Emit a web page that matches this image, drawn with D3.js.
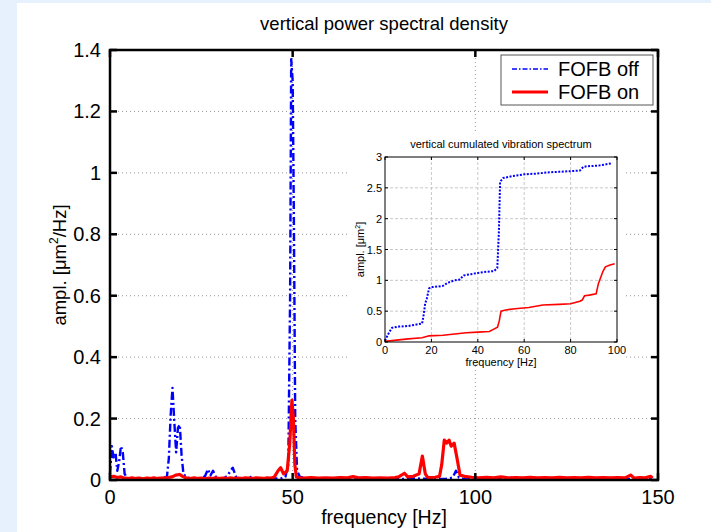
<!DOCTYPE html>
<html>
<head>
<meta charset="utf-8">
<script src="https://cdn.jsdelivr.net/npm/d3@7"></script>
<style>
  html, body { margin: 0; padding: 0; background: #e6f1fd; }
  svg { display: block; }
  text { font-family: "Liberation Sans", Arial, Helvetica, sans-serif; fill: #000; }
</style>
</head>
<body>
<svg id="chart" width="711" height="532"></svg>
<script>
// Power spectral density, feedback off: [frequency Hz, amplitude um^2/Hz]
const psdOff = [
  [0,0.02],[0.5,0.11],[1,0.07],[1.5,0.09],[2,0.03],[2.5,0.06],[3,0.11],[3.5,0.09],[4,0.02],[4.5,0.01],
  [5,0.005],[6,0.004],[7,0.006],[8,0.003],[9,0.005],[10,0.004],[11,0.006],[12,0.004],[13,0.005],[14,0.006],
  [15,0.008],[15.6,0.012],[16.1,0.07],[16.6,0.21],[17.1,0.30],[17.6,0.19],[18.1,0.09],[18.6,0.17],[19.1,0.18],[19.6,0.08],
  [20.1,0.02],[21,0.008],[22,0.005],[23,0.006],[24,0.004],[25,0.006],[26,0.012],[26.8,0.035],[27.5,0.015],[28.2,0.03],
  [29,0.01],[30,0.006],[31,0.005],[32,0.012],[33.6,0.04],[34.5,0.01],[35,0.005],[36,0.004],[37,0.006],[38,0.005],
  [38.8,0.012],[39.5,0.005],[41,0.004],[42,0.006],[43,0.004],[44,0.005],[45,0.006],[46,0.004],[47,0.006],[48,0.01],
  [48.8,0.05],[49.3,0.6],[49.6,1.37],[50,1.3],[50.3,0.9],[50.7,0.2],[51.2,0.03],[52,0.01],[53,0.008],[54,0.005],
  [56,0.004],[58,0.005],[60,0.003],[63,0.004],[66,0.005],[69,0.003],[72,0.004],[75,0.003],[78,0.004],[81,0.003],
  [84,0.005],[86,0.004],[89,0.003],[92,0.004],[93.8,0.008],[94.7,0.03],[95.5,0.008],[97,0.003],[100,0.004],[104,0.003],
  [108,0.004],[112,0.003],[116,0.004],[120,0.003],[125,0.004],[130,0.003],[135,0.004],[140,0.003],[144,0.004],[148.5,0.003]
];

// Power spectral density, feedback on
const psdOn = [
  [0,0.01],[1,0.012],[2,0.008],[3,0.01],[4,0.006],[5,0.005],[6,0.007],[7,0.005],[8,0.006],[9,0.004],
  [10,0.006],[11,0.005],[12,0.007],[13,0.005],[14,0.006],[15,0.007],[16,0.008],[17,0.01],[18,0.016],[19,0.018],
  [20,0.011],[21,0.006],[22,0.005],[23,0.007],[24,0.005],[25,0.006],[26,0.004],[27,0.006],[28,0.005],[29,0.007],
  [30,0.005],[31,0.006],[32,0.005],[33,0.007],[34,0.005],[35,0.006],[36,0.005],[37,0.007],[38,0.006],[39,0.005],
  [40,0.007],[41,0.006],[42,0.005],[43,0.007],[44,0.006],[45,0.01],[46,0.03],[46.7,0.04],[47.5,0.02],[48.5,0.03],
  [49.2,0.12],[49.8,0.26],[50.2,0.2],[50.6,0.05],[51,0.01],[52,0.007],[53,0.006],[55,0.008],[57,0.006],[59,0.007],
  [61,0.006],[63,0.008],[65,0.007],[66.5,0.011],[68,0.007],[70,0.008],[72,0.006],[74,0.007],[76,0.006],[78,0.008],
  [79,0.01],[80.6,0.022],[81.5,0.01],[83,0.012],[84.6,0.02],[85.5,0.078],[86.3,0.02],[87,0.008],[89,0.009],[90.2,0.012],
  [90.8,0.05],[91.5,0.13],[92.2,0.12],[92.8,0.13],[93.4,0.11],[94.2,0.12],[95,0.07],[95.8,0.016],[97,0.012],[99,0.009],
  [101,0.007],[103,0.009],[105,0.007],[107,0.01],[109,0.007],[111,0.008],[113,0.007],[115,0.009],[117,0.007],[119,0.008],
  [121,0.007],[123,0.009],[125,0.007],[127,0.008],[129,0.007],[131,0.009],[133,0.007],[135,0.008],[137,0.007],[139,0.008],
  [141,0.007],[142.5,0.016],[143.5,0.006],[145,0.008],[146.5,0.007],[148,0.012],[148.5,0.006]
];

// Cumulated vibration spectrum, feedback off: [frequency Hz, amplitude um^2]
const cumOff = [
  [0,0.02],[1,0.1],[2,0.17],[3,0.23],[6,0.25],[10,0.26],[13,0.28],[16,0.3],[16.7,0.45],[17.3,0.62],
  [18,0.7],[19,0.87],[20,0.89],[23,0.9],[25,0.91],[27,0.96],[30,1.0],[32,1.01],[34,1.08],[37,1.1],
  [40,1.12],[44,1.14],[47,1.15],[48.4,1.2],[49.1,1.8],[49.6,2.6],[51,2.66],[55,2.69],[60,2.72],[65,2.73],
  [70,2.75],[75,2.76],[80,2.77],[84,2.78],[85.5,2.84],[87,2.85],[92,2.86],[95,2.88],[98,2.9]
];

// Cumulated vibration spectrum, feedback on
const cumOn = [
  [0,0.01],[5,0.03],[10,0.05],[16,0.07],[19,0.1],[25,0.11],[30,0.13],[35,0.15],[40,0.16],[45,0.17],
  [46.5,0.2],[48.5,0.24],[49.3,0.35],[50,0.5],[52,0.52],[56,0.54],[62,0.56],[68,0.6],[75,0.61],[80,0.62],
  [84,0.66],[85,0.68],[86,0.75],[88,0.76],[91,0.78],[92,0.95],[94,1.15],[95,1.22],[97,1.25],[99,1.27]
];

const psdYTicks = [0, 0.2, 0.4, 0.6, 0.8, 1, 1.2, 1.4];
const psdXTicks = [0, 50, 100, 150];
const cumYTicks = [0, 0.5, 1, 1.5, 2, 2.5, 3];
const cumXTicks = [0, 20, 40, 60, 80, 100];
const seriesNames = ["FOFB off", "FOFB on"];

const BLUE = "#0000ff", RED = "#ff0000";
const svg = d3.select("#chart");

// white figure panel
svg.append("rect").attr("x", 17).attr("y", 3).attr("width", 711 - 17).attr("height", 532 - 3).attr("fill", "#fff");

// ---------- main PSD axes ----------
const M = { left: 110, right: 658, top: 50, bottom: 480 };
const x = d3.scaleLinear().domain([0, 150]).range([M.left, M.right]);
const y = d3.scaleLinear().domain([0, 1.4]).range([M.bottom, M.top]);

const main = svg.append("g");

// dotted grid
main.append("g").selectAll("line").data(psdYTicks.slice(1, -1)).join("line")
  .attr("x1", M.left).attr("x2", M.right).attr("y1", d => y(d)).attr("y2", d => y(d))
  .attr("stroke", "#9a9a9a").attr("stroke-width", 1).attr("stroke-dasharray", "1,3");
main.append("g").selectAll("line").data(psdXTicks.slice(1, -1)).join("line")
  .attr("y1", M.top).attr("y2", M.bottom).attr("x1", d => x(d)).attr("x2", d => x(d))
  .attr("stroke", "#9a9a9a").attr("stroke-width", 1).attr("stroke-dasharray", "1,3");

const line = d3.line().x(d => x(d[0])).y(d => y(d[1]));
main.append("path").datum(psdOff).attr("d", line).attr("fill", "none")
  .attr("stroke", BLUE).attr("stroke-width", 2.4).attr("stroke-dasharray", "8,3,2,3")
  .attr("stroke-linejoin", "round");
main.append("path").datum(psdOn).attr("d", line).attr("fill", "none")
  .attr("stroke", RED).attr("stroke-width", 3.2).attr("stroke-linejoin", "round");

// axes with inward ticks on all four sides
const tickLen = 7;
const ax = main.append("g").attr("stroke", "#000").attr("stroke-width", 2.5);
ax.append("rect").attr("x", M.left).attr("y", M.top).attr("width", M.right - M.left).attr("height", M.bottom - M.top)
  .attr("fill", "none");
psdXTicks.forEach(t => {
  ax.append("line").attr("x1", x(t)).attr("x2", x(t)).attr("y1", M.bottom).attr("y2", M.bottom - tickLen);
  ax.append("line").attr("x1", x(t)).attr("x2", x(t)).attr("y1", M.top).attr("y2", M.top + tickLen);
});
psdYTicks.forEach(t => {
  ax.append("line").attr("y1", y(t)).attr("y2", y(t)).attr("x1", M.left).attr("x2", M.left + tickLen);
  ax.append("line").attr("y1", y(t)).attr("y2", y(t)).attr("x1", M.right).attr("x2", M.right - tickLen);
});

main.append("g").selectAll("text").data(psdXTicks).join("text")
  .attr("x", d => x(d)).attr("y", M.bottom + 24).attr("text-anchor", "middle")
  .attr("font-size", 20).text(d => d);
main.append("g").selectAll("text").data(psdYTicks).join("text")
  .attr("x", M.left - 9).attr("y", d => y(d) + 7).attr("text-anchor", "end")
  .attr("font-size", 20).text(d => d);

svg.append("text").attr("x", (M.left + M.right) / 2).attr("y", 30).attr("text-anchor", "middle")
  .attr("font-size", 18.5).text("vertical power spectral density");
svg.append("text").attr("x", (M.left + M.right) / 2).attr("y", 524).attr("text-anchor", "middle")
  .attr("font-size", 19.5).text("frequency [Hz]");
const yl = svg.append("text").attr("transform", `translate(66,${(M.top + M.bottom) / 2}) rotate(-90)`)
  .attr("text-anchor", "middle").attr("font-size", 18.5);
yl.append("tspan").text("ampl. [\u03bcm");
yl.append("tspan").attr("font-size", 12).attr("dy", -8).text("2");
yl.append("tspan").attr("dy", 8).text("/Hz]");

// legend
const lg = svg.append("g").attr("transform", "translate(501,55)");
lg.append("rect").attr("width", 152).attr("height", 50).attr("fill", "#fff")
  .attr("stroke", "#555").attr("stroke-width", 1);
lg.append("line").attr("x1", 11).attr("x2", 47).attr("y1", 14).attr("y2", 14)
  .attr("stroke", BLUE).attr("stroke-width", 1.6).attr("stroke-dasharray", "5,2,1.5,2");
lg.append("line").attr("x1", 11).attr("x2", 47).attr("y1", 37).attr("y2", 37)
  .attr("stroke", RED).attr("stroke-width", 3.2);
lg.selectAll("text.lbl").data(seriesNames).join("text").attr("class", "lbl")
  .attr("x", 57).attr("y", (d, i) => 21 + i * 23).attr("font-size", 20).text(d => d);

// ---------- inset: cumulated spectrum, on its own white panel ----------
const I = { left: 385, right: 617, top: 157, bottom: 342 };
const xi = d3.scaleLinear().domain([0, 100]).range([I.left, I.right]);
const yi = d3.scaleLinear().domain([0, 3]).range([I.bottom, I.top]);
const ins = svg.append("g");

ins.append("rect").attr("x", 347).attr("y", 131).attr("width", 625 - 347).attr("height", 359 - 131)
  .attr("fill", "#fff");
ins.append("g").selectAll("line").data(cumYTicks.slice(1, -1)).join("line")
  .attr("x1", I.left).attr("x2", I.right).attr("y1", d => yi(d)).attr("y2", d => yi(d))
  .attr("stroke", "#c8c8c8").attr("stroke-width", 1).attr("stroke-dasharray", "3,2");
ins.append("g").selectAll("line").data(cumXTicks.slice(1, -1)).join("line")
  .attr("y1", I.top).attr("y2", I.bottom).attr("x1", d => xi(d)).attr("x2", d => xi(d))
  .attr("stroke", "#c8c8c8").attr("stroke-width", 1).attr("stroke-dasharray", "3,2");

const lineI = d3.line().x(d => xi(d[0])).y(d => yi(d[1]));
ins.append("path").datum(cumOff).attr("d", lineI).attr("fill", "none")
  .attr("stroke", BLUE).attr("stroke-width", 2).attr("stroke-dasharray", "2,1.5");
ins.append("path").datum(cumOn).attr("d", lineI).attr("fill", "none")
  .attr("stroke", RED).attr("stroke-width", 1.6);

const axI = ins.append("g").attr("stroke", "#000").attr("stroke-width", 1);
axI.append("rect").attr("x", I.left).attr("y", I.top).attr("width", I.right - I.left).attr("height", I.bottom - I.top)
  .attr("fill", "none");
cumXTicks.forEach(t => {
  axI.append("line").attr("x1", xi(t)).attr("x2", xi(t)).attr("y1", I.bottom).attr("y2", I.bottom - 3);
  axI.append("line").attr("x1", xi(t)).attr("x2", xi(t)).attr("y1", I.top).attr("y2", I.top + 3);
});
cumYTicks.forEach(t => {
  axI.append("line").attr("y1", yi(t)).attr("y2", yi(t)).attr("x1", I.left).attr("x2", I.left + 3);
  axI.append("line").attr("y1", yi(t)).attr("y2", yi(t)).attr("x1", I.right).attr("x2", I.right - 3);
});
ins.append("g").selectAll("text").data(cumXTicks).join("text")
  .attr("x", d => xi(d)).attr("y", I.bottom + 12).attr("text-anchor", "middle")
  .attr("font-size", 11).text(d => d);
ins.append("g").selectAll("text").data(cumYTicks).join("text")
  .attr("x", I.left - 3).attr("y", d => yi(d) + 4).attr("text-anchor", "end")
  .attr("font-size", 11).text(d => d);
ins.append("text").attr("x", (I.left + I.right) / 2).attr("y", 148).attr("text-anchor", "middle")
  .attr("font-size", 11).text("vertical cumulated vibration spectrum");
ins.append("text").attr("x", (I.left + I.right) / 2).attr("y", 366).attr("text-anchor", "middle")
  .attr("font-size", 11).text("frequency [Hz]");
const yli = ins.append("text").attr("transform", `translate(364,${(I.top + I.bottom) / 2}) rotate(-90)`)
  .attr("text-anchor", "middle").attr("font-size", 11);
yli.append("tspan").text("ampl. [\u03bcm");
yli.append("tspan").attr("font-size", 7).attr("dy", -4).text("2");
yli.append("tspan").attr("dy", 4).text("]");
</script>
</body>
</html>
